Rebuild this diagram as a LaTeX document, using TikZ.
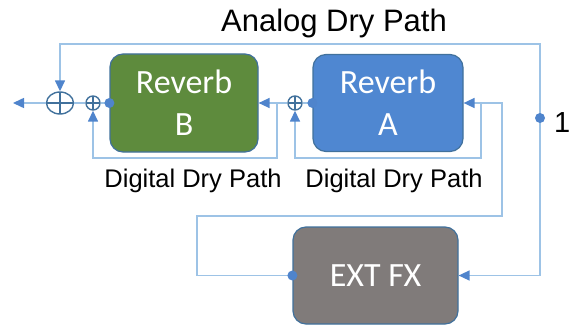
\documentclass[tikz,border=0pt]{standalone}
\usepackage{fontspec}
\setmainfont{Liberation Sans}
\newfontfamily\boxfont{Carlito}
\usetikzlibrary{positioning,arrows.meta,shapes.geometric,calc}
\definecolor{wirecol}{HTML}{9DC3E6}
\definecolor{tipcol}{HTML}{4F84CC}
\definecolor{ringcol}{HTML}{41719C}
\definecolor{greenfill}{HTML}{5E8B3D}
\definecolor{bluefill}{HTML}{4F87D1}
\definecolor{grayfill}{HTML}{807B7A}

\begin{document}
\begin{tikzpicture}[x=1pt,y=-1pt,>={Triangle[length=11pt,width=10pt,color=tipcol]},
  block/.style={draw=ringcol,line width=1.2pt,rounded corners=13pt,text=white,
    align=center,font=\boxfont\fontsize{34}{42}\selectfont},
  sumnode/.style={draw=ringcol,line width=1.4pt,inner sep=0pt,
    path picture={\draw[ringcol,line width=1.4pt]
      (path picture bounding box.north) -- (path picture bounding box.south)
      (path picture bounding box.west) -- (path picture bounding box.east);}},
  dot/.style={circle,fill=tipcol,inner sep=0pt,minimum size=10pt},
  wire/.style={draw=wirecol,line width=1.5pt},
  lbl/.style={inner sep=0pt,anchor=base}]
  \useasboundingbox (0,0) rectangle (569,326);
  % blocks
  \node[block,fill=greenfill,minimum width=148pt,minimum height=98pt] (revB) at (184,103) {Reverb\\B};
  \node[block,fill=bluefill,minimum width=150pt,minimum height=97pt] (revA) at (388,103) {Reverb\\A};
  \node[block,fill=grayfill,minimum width=165pt,minimum height=97pt] (extfx) at (375.5,275.5) {EXT FX};
  % summing points
  \node[sumnode,ellipse,minimum width=27pt,minimum height=22pt] (sumOut) at (60,103) {};
  \node[sumnode,circle,minimum size=14pt] (sumB) at (93,103) {};
  \node[sumnode,circle,minimum size=14pt] (sumA) at (295,103) {};
  \coordinate (out) at (13,103);
  \coordinate (inPt) at (540,118);
  \coordinate (anaCorner) at (540,44);
  \coordinate (tapB) at (277,103);
  \coordinate (dryB) at (277,158);
  \coordinate (tapA) at (481,103);
  \coordinate (dryA) at (481,158);
  \coordinate (fbLow) at (197,216);
  \coordinate (fbHigh) at (502,216);
  % wires
  \draw[wire,->] (sumOut.west) -- (out);
  \draw[wire] (sumOut.east) -- (sumB.west);
  \draw[wire] (sumB.east) -- (revB.west);
  \draw[wire,->] (sumA.west) -- (revB.east);
  \draw[wire] (sumA.east) -- (revA.west);
  \draw[wire,->] (tapB) -- (dryB) -| (sumB.south);
  \draw[wire,->] (tapA) -- (dryA) -| (sumA.south);
  \draw[wire,->] (inPt) -- (anaCorner) -| (sumOut.north);
  \draw[wire,->] (inPt) |- (extfx.east);
  \draw[wire,->] (extfx.west) -| (fbLow) -- (fbHigh) |- (revA.east);
  % taps
  \node[dot] (dotB) at (revB.west) {};
  \node[dot] (dotA) at (revA.west) {};
  \node[dot] (dotFX) at (extfx.west) {};
  \node[dot] (inDot) at (inPt) {};
  % labels
  \node[lbl,font=\fontsize{31}{36}\selectfont] (title) at (334,32) {Analog Dry Path};
  \node[lbl,font=\fontsize{25.5}{30}\selectfont] (dryLblB) at (193,187) {Digital Dry Path};
  \node[lbl,font=\fontsize{25.5}{30}\selectfont] (dryLblA) at (394,187) {Digital Dry Path};
  \node[lbl,anchor=base west,font=\fontsize{29}{34}\selectfont] (oneLbl) at ($(inDot)+(14,14)$) {1};
\end{tikzpicture}
\end{document}
